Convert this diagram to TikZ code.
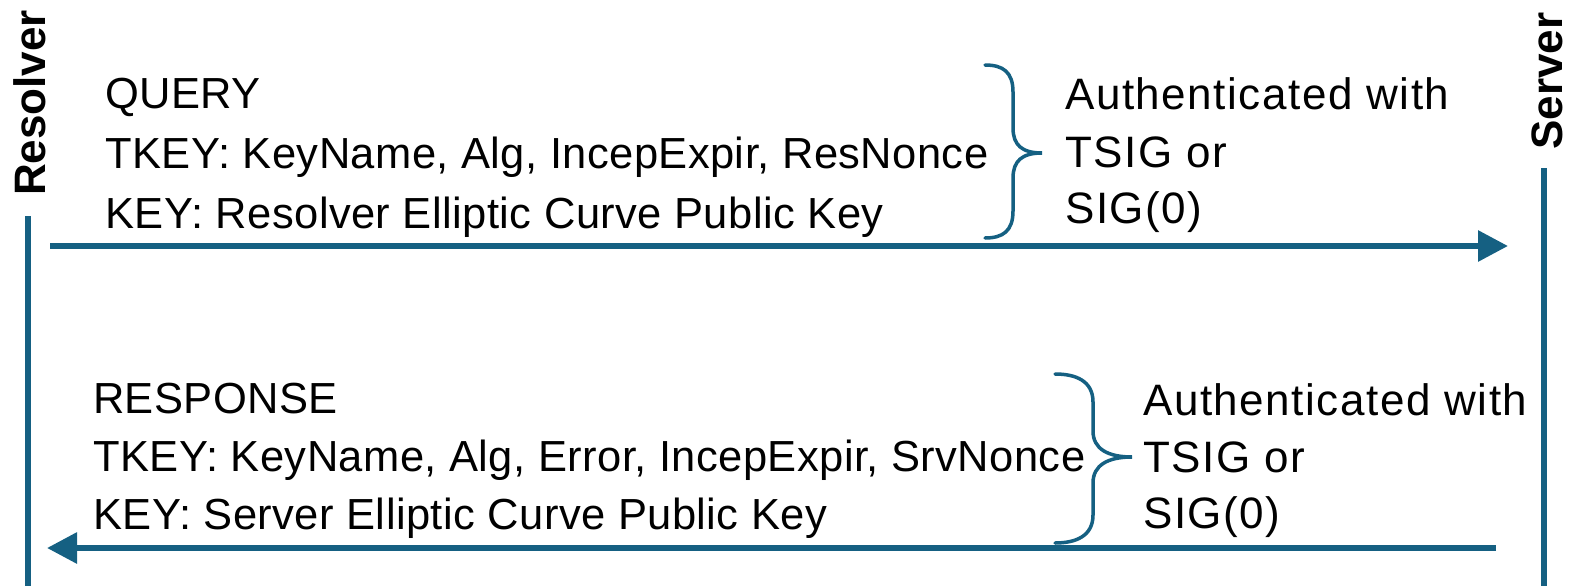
\documentclass[tikz,border=0pt]{standalone}
\usepackage{fontspec}
\setmainfont{Liberation Sans}
\newfontfamily\widesans[LetterSpace=3.5]{Liberation Sans}
\newfontfamily\midsans[LetterSpace=1]{Liberation Sans}
\usetikzlibrary{arrows.meta}
\definecolor{lineblue}{HTML}{156082}
\tikzset{
  txt/.style={anchor=base west, inner sep=0pt, font=\midsans\fontsize{43.5}{50}\selectfont},
  auth/.style={anchor=base west, inner sep=0pt, font=\widesans\fontsize{44}{50}\selectfont},
  actor/.style={anchor=base, inner sep=0pt, rotate=90, font=\fontsize{44}{50}\selectfont\bfseries},
  life/.style={draw=lineblue, line width=6pt},
  msg/.style={draw=lineblue, line width=6pt, -{Triangle[length=30pt,width=30pt]}},
  brace/.style={draw=lineblue, line width=3.5pt, line cap=round}
}
\begin{document}
\begin{tikzpicture}[x=1pt,y=-1pt]
\useasboundingbox (0,0) rectangle (1574,586);
% actors
\node[actor] (res) at (45,103) {Resolver};
\node[actor] (srv) at (1562,81) {Server};
\coordinate (resTop) at (28,216);
\coordinate (resBot) at (28,586);
\coordinate (srvTop) at (1544,168);
\coordinate (srvBot) at (1544,586);
\draw[life] (resTop) -- (resBot);
\draw[life] (srvTop) -- (srvBot);
% query
\node[txt] (q1) at (105,108) {QUERY};
\node[txt] (q2) at (105,168) {TKEY: KeyName, Alg, IncepExpir, ResNonce};
\node[txt] (q3) at (105,228) {KEY: Resolver Elliptic Curve Public Key};
\node[auth] (qa1) at (1065,110) {Authenticated with};
\node[auth] (qa2) at (1065,167) {TSIG or};
\node[auth] (qa3) at (1065,223) {SIG(0)};
\coordinate (qs) at (50,246);
\coordinate (qe) at (1508,246);
\draw[msg] (qs) -- (qe);
\draw[brace] (985,65) .. controls (1003,65) and (1013,72) .. (1013,92) -- (1013,128)
  .. controls (1013,145) and (1022,153) .. (1042,153)
  .. controls (1022,153) and (1013,161) .. (1013,178) -- (1013,211)
  .. controls (1013,231) and (1003,238) .. (985,238);
% response
\node[txt] (r1) at (93,413) {RESPONSE};
\node[txt] (r2) at (93,471) {TKEY: KeyName, Alg, Error, IncepExpir, SrvNonce};
\node[txt] (r3) at (93,529) {KEY: Server Elliptic Curve Public Key};
\node[auth] (ra1) at (1143,415) {Authenticated with};
\node[auth] (ra2) at (1143,472) {TSIG or};
\node[auth] (ra3) at (1143,528) {SIG(0)};
\coordinate (rs) at (1496,548);
\coordinate (re) at (47,548);
\draw[msg] (rs) -- (re);
\draw[brace] (1055,374) .. controls (1076,374) and (1093,381) .. (1093,402) -- (1093,431)
  .. controls (1093,449) and (1108,457) .. (1132,457)
  .. controls (1108,457) and (1093,465) .. (1093,483) -- (1093,515)
  .. controls (1093,536) and (1076,543) .. (1055,543);
\end{tikzpicture}
\end{document}
